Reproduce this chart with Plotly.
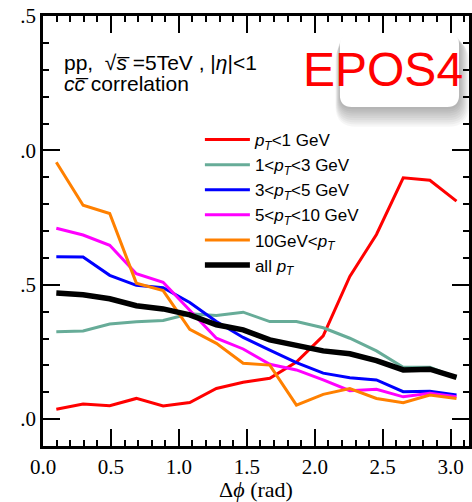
import plotly.graph_objects as go

# Delta-phi bin centres (rad)
dphi = [0.098, 0.295, 0.491, 0.687, 0.884, 1.080, 1.276, 1.473,
        1.669, 1.865, 2.062, 2.258, 2.454, 2.651, 2.847, 3.043]

# cc-bar correlation per pT class
pt_lt1 = [0.037, 0.056, 0.050, 0.077, 0.049, 0.062, 0.114, 0.137,
          0.152, 0.212, 0.310, 0.531, 0.687, 0.898, 0.889, 0.811]
pt_1_3 = [0.325, 0.328, 0.354, 0.362, 0.367, 0.392, 0.386, 0.398,
          0.363, 0.363, 0.340, 0.301, 0.254, 0.193, 0.193, 0.154]
pt_3_5 = [0.604, 0.603, 0.535, 0.498, 0.489, 0.434, 0.363, 0.304,
          0.257, 0.210, 0.171, 0.154, 0.146, 0.102, 0.104, 0.090]
pt_5_10 = [0.710, 0.685, 0.647, 0.541, 0.509, 0.405, 0.301, 0.261,
           0.204, 0.183, 0.146, 0.106, 0.111, 0.083, 0.096, 0.083]
pt_gt10 = [0.956, 0.796, 0.765, 0.506, 0.478, 0.334, 0.282, 0.208,
           0.201, 0.052, 0.092, 0.114, 0.077, 0.061, 0.090, 0.077]
pt_all = [0.469, 0.463, 0.448, 0.422, 0.410, 0.388, 0.351, 0.332,
          0.295, 0.276, 0.254, 0.243, 0.218, 0.183, 0.186, 0.155]

series = [
    ("<i>p</i><sub><i>T</i></sub><1 GeV", pt_lt1, "#ff0000", 3),
    ("1<<i>p</i><sub><i>T</i></sub><3 GeV", pt_1_3, "#67ac98", 3),
    ("3<<i>p</i><sub><i>T</i></sub><5 GeV", pt_3_5, "#0000ff", 3),
    ("5<<i>p</i><sub><i>T</i></sub><10 GeV", pt_5_10, "#ff00ff", 3),
    ("10GeV<<i>p</i><sub><i>T</i></sub>", pt_gt10, "#ff8000", 3),
    ("all <i>p</i><sub><i>T</i></sub>", pt_all, "#000000", 5.5),
]

y_ticks = [0.0, 0.5, 1.0, 1.5]
y_ticktext = [".0", ".5", ".0", ".5"]
x_ticks = [0.0, 0.5, 1.0, 1.5, 2.0, 2.5, 3.0]
x_ticktext = ["0.0", "0.5", "1.0", "1.5", "2.0", "2.5", "3.0"]

W, H = 472, 502
ML, MT, MR, MB = 43, 16, 0, 56
PW, PH = W - ML - MR, H - MT - MB


def px(x):
    return (x - ML) / PW


def py(y):
    return (H - MB - y) / PH


fig = go.Figure()
for i, (name, vals, col, lw) in enumerate(series):
    fig.add_trace(go.Scatter(
        x=dphi, y=vals, mode="lines", name=name,
        line=dict(color=col, width=lw)))

axis_common = dict(
    showline=True, linecolor="black", linewidth=2.5, mirror="allticks",
    ticks="inside", ticklen=17, tickwidth=2, tickcolor="black",
    showgrid=False, zeroline=False,
    tickfont=dict(family="Liberation Serif", size=21, color="black"),
    minor=dict(ticks="inside", ticklen=6, tickwidth=1.5, tickcolor="black",
               dtick=0.1, showgrid=False),
)

fig.update_xaxes(range=[0, 3.135], tickvals=x_ticks, ticktext=x_ticktext,
                 title=dict(text="Δ<i>ϕ</i> (rad)", standoff=4,
                            font=dict(family="Liberation Serif", size=22,
                                      color="black")),
                 **axis_common)
fig.update_yaxes(range=[-0.1, 1.5], tickvals=y_ticks, ticktext=y_ticktext,
                 **axis_common)


def rounded(x0, y0, x1, y1, r):
    pts = [
        f"M{px(x0 + r)},{py(y0)}", f"L{px(x1 - r)},{py(y0)}",
        f"Q{px(x1)},{py(y0)} {px(x1)},{py(y0 + r)}", f"L{px(x1)},{py(y1 - r)}",
        f"Q{px(x1)},{py(y1)} {px(x1 - r)},{py(y1)}", f"L{px(x0 + r)},{py(y1)}",
        f"Q{px(x0)},{py(y1)} {px(x0)},{py(y1 - r)}", f"L{px(x0)},{py(y0 + r)}",
        f"Q{px(x0)},{py(y0)} {px(x0 + r)},{py(y0)}", "Z"]
    return " ".join(pts)


shapes = []
# soft drop shadow behind the label box
for k in range(9, 0, -1):
    shapes.append(dict(type="path", xref="paper", yref="paper",
                       path=rounded(342 - k * 0.5, 33 + k * 0.8, 462 + k * 1.1,
                                    107 + k * 2.2, 12 + k),
                       fillcolor="rgba(0,0,0,0.035)", line=dict(width=0),
                       layer="above"))
shapes.append(dict(type="path", xref="paper", yref="paper",
                   path=rounded(342, 33, 462, 107, 12),
                   fillcolor="white", line=dict(width=0), layer="above"))

annotations = [
    dict(text="pp,  √<i>s\u0305</i> =5TeV , |<i>η</i>|<1",
         x=px(62), y=py(63),
         xref="paper", yref="paper", xanchor="left", yanchor="middle",
         showarrow=False,
         font=dict(family="Liberation Sans", size=21, color="black")),
    dict(text="<i>cc\u0305</i> correlation",
         x=px(62), y=py(83),
         xref="paper", yref="paper", xanchor="left", yanchor="middle",
         showarrow=False,
         font=dict(family="Liberation Sans", size=21, color="black")),
    dict(text="EPOS4", x=px(385), y=py(70), xref="paper", yref="paper",
         xanchor="center", yanchor="middle", showarrow=False,
         font=dict(family="Liberation Sans", size=48, color="#ff0000")),
]

fig.update_layout(
    width=W, height=H, autosize=False,
    margin=dict(l=ML, r=MR, t=MT, b=MB),
    plot_bgcolor="white", paper_bgcolor="white",
    shapes=shapes, annotations=annotations,
    showlegend=True,
    legend=dict(x=px(201), y=py(122), xanchor="left", yanchor="top",
                bgcolor="rgba(0,0,0,0)", borderwidth=0,
                font=dict(family="Liberation Sans", size=17, color="black"),
                itemwidth=45),
)

fig.write_html("out.html")
